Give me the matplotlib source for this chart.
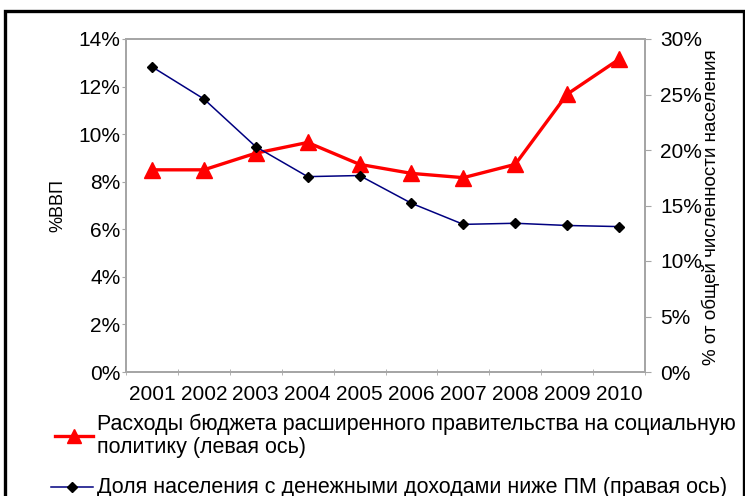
import matplotlib
matplotlib.use("Agg")
import matplotlib.pyplot as plt
from matplotlib.lines import Line2D
from matplotlib.patches import Rectangle
from matplotlib.ticker import FuncFormatter, MultipleLocator

plt.rcParams['font.family'] = ['Liberation Sans', 'DejaVu Sans']

years = ['2001', '2002', '2003', '2004', '2005', '2006', '2007', '2008', '2009', '2010']
social_spending = [8.5, 8.5, 9.2, 9.65, 8.73, 8.35, 8.17, 8.73, 11.68, 13.15]   # % GDP, left axis
poverty_share = [27.5, 24.6, 20.3, 17.6, 17.7, 15.2, 13.3, 13.4, 13.2, 13.1]    # % population, right axis

label_left = '%ВВП'
label_right = '% от общей численности населения'
legend_red = 'Расходы бюджета расширенного правительства на социальную\nполитику (левая ось)'
legend_blue = 'Доля населения с денежными доходами ниже ПМ (правая ось)'

W, H = 745, 496
fig = plt.figure(figsize=(W / 100, H / 100), dpi=100)

def fx(px):
    return px / W

def fy(py):
    return 1 - py / H

ax = fig.add_axes([fx(126), fy(372), fx(645) - fx(126), fy(39) - fy(372)])
ax2 = ax.twinx()

x = list(range(len(years)))
ax.plot(x, social_spending, color='#ff0000', lw=2.4, marker='^', markersize=12,
        markerfacecolor='#ff0000', markeredgecolor='#ff0000', zorder=3)
ax2.plot(x, poverty_share, color='#000080', lw=1.1, marker='D', markersize=5.5,
         markerfacecolor='black', markeredgecolor='black', zorder=3)

spine_color = '#a6a6a6'
ax.set_xlim(-0.5, len(years) - 0.5)
ax.set_ylim(0, 14)
ax2.set_ylim(0, 30)
ax.yaxis.set_major_locator(MultipleLocator(2))
ax2.yaxis.set_major_locator(MultipleLocator(5))
ax.yaxis.set_major_formatter(FuncFormatter(lambda v, p: f'{v:.0f}%'))
ax2.yaxis.set_major_formatter(FuncFormatter(lambda v, p: f'{v:.0f}%'))

ax.set_xticks(x)
ax.set_xticklabels(years)
ax.set_xticks([i + 0.5 for i in range(-1, len(years))], minor=True)
ax.tick_params(axis='x', which='major', length=0, pad=9, labelsize=15)
ax.tick_params(axis='x', which='minor', length=4, color=spine_color, direction='inout')
ax.tick_params(axis='y', length=3, color=spine_color, pad=1, labelsize=15)
ax2.tick_params(axis='y', length=4, color=spine_color, pad=7, labelsize=15)

for a in (ax, ax2):
    for s in a.spines.values():
        s.set_color(spine_color)
        s.set_linewidth(1.4)

fig.text(fx(58), fy(205), label_left, rotation=90, ha='center', va='center', fontsize=13)
fig.text(fx(711), fy(207), label_right, rotation=90, ha='center', va='center', fontsize=13.5)

# legend
fig.add_artist(Line2D([fx(55), fx(74), fx(93)], [fy(436)] * 3, color='#ff0000', lw=2.4,
                      marker='^', markersize=10, markevery=[1], transform=fig.transFigure))
fig.text(fx(97), fy(436), legend_red, ha='left', va='center', fontsize=15.5, linespacing=1.1)
fig.add_artist(Line2D([fx(51), fx(72), fx(93)], [fy(487)] * 3, color='#000080', lw=1.1,
                      marker='D', markersize=5, markevery=[1], markerfacecolor='black',
                      markeredgecolor='black', transform=fig.transFigure))
fig.text(fx(97), fy(488), legend_blue, ha='left', va='center', fontsize=15.5)

# outer frame
fig.add_artist(Rectangle((fx(5), -0.2), fx(744) - fx(5), fy(11) + 0.2, fill=False,
                         edgecolor='black', lw=2.4, transform=fig.transFigure))

fig.savefig('out.png', dpi=100)
